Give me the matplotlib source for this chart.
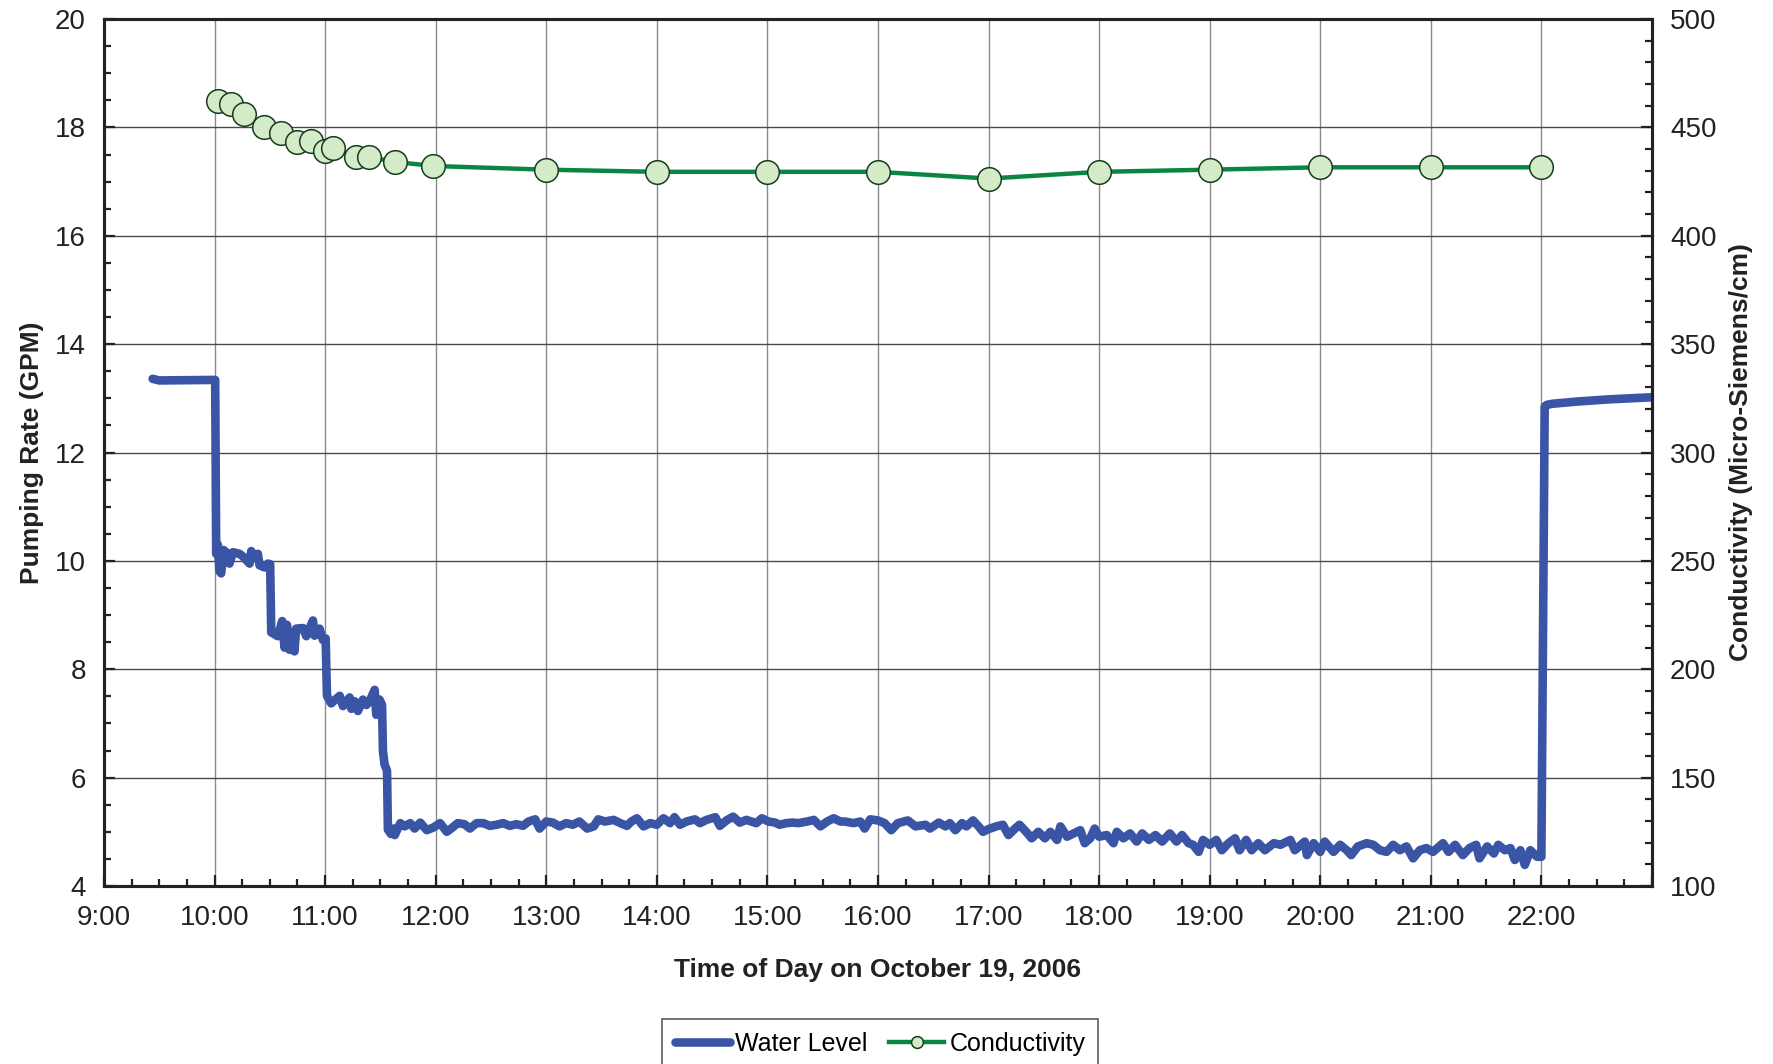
import matplotlib
matplotlib.use("Agg")
from matplotlib import pyplot as plt
from matplotlib.ticker import MultipleLocator
import numpy as np

plt.rcParams['font.family'] = ['Liberation Sans', 'DejaVu Sans']

# water level (pumping rate, GPM), time in decimal hours
wl_time = [9.44, 9.50, 10.006, 10.015, 10.03, 10.045, 10.06, 10.082, 10.105, 10.135,
           10.167, 10.227, 10.257, 10.317, 10.332, 10.362, 10.392, 10.407, 10.452, 10.483,
           10.503, 10.513, 10.573, 10.612, 10.633, 10.655, 10.678, 10.708, 10.723, 10.738,
           10.80, 10.83, 10.89, 10.905, 10.95, 10.98, 11.005, 11.017, 11.055, 11.132,
           11.162, 11.222, 11.237, 11.267, 11.297, 11.342, 11.373, 11.403, 11.448, 11.463,
           11.493, 11.515, 11.523, 11.538, 11.56, 11.568, 11.595, 11.62, 11.63, 11.68,
           11.72, 11.77, 11.81, 11.86, 11.92, 11.98, 12.04, 12.10, 12.14, 12.20,
           12.26, 12.31, 12.37, 12.43, 12.49, 12.55, 12.61, 12.67, 12.73, 12.79,
           12.84, 12.90, 12.94, 13.00, 13.06, 13.12, 13.18, 13.24, 13.30, 13.37,
           13.43, 13.47, 13.53, 13.61, 13.67, 13.73, 13.77, 13.82, 13.88, 13.94,
           14.00, 14.06, 14.12, 14.16, 14.21, 14.27, 14.345, 14.39, 14.45, 14.53,
           14.57, 14.63, 14.69, 14.75, 14.81, 14.90, 14.95, 15.01, 15.07, 15.11,
           15.17, 15.23, 15.28, 15.36, 15.42, 15.48, 15.54, 15.60, 15.66, 15.70,
           15.78, 15.84, 15.88, 15.93, 16.00, 16.06, 16.12, 16.18, 16.27, 16.34,
           16.43, 16.47, 16.55, 16.61, 16.65, 16.70, 16.76, 16.80, 16.86, 16.91,
           16.95, 17.00, 17.07, 17.13, 17.18, 17.24, 17.28, 17.34, 17.39, 17.45,
           17.51, 17.56, 17.62, 17.65, 17.71, 17.77, 17.83, 17.87, 17.92, 17.96,
           18.00, 18.07, 18.13, 18.16, 18.22, 18.28, 18.34, 18.39, 18.45, 18.51,
           18.57, 18.64, 18.70, 18.75, 18.81, 18.85, 18.90, 18.94, 19.00, 19.06,
           19.11, 19.17, 19.23, 19.27, 19.33, 19.38, 19.44, 19.50, 19.58, 19.64,
           19.73, 19.77, 19.86, 19.88, 19.94, 20.00, 20.04, 20.12, 20.18, 20.24,
           20.28, 20.34, 20.42, 20.48, 20.54, 20.60, 20.66, 20.72, 20.78, 20.84,
           20.90, 20.96, 21.02, 21.11, 21.16, 21.22, 21.29, 21.35, 21.41, 21.44,
           21.51, 21.57, 21.61, 21.67, 21.72, 21.76, 21.81, 21.85, 21.90, 21.96,
           22.00, 22.03, 22.05, 22.10, 22.32, 22.60, 23.00]
wl_gpm = [13.36, 13.33, 13.34, 10.13, 10.30, 9.81, 9.77, 10.20, 10.16, 9.95,
          10.16, 10.13, 10.08, 9.95, 10.18, 10.09, 10.13, 9.92, 9.88, 9.95,
          9.94, 8.68, 8.61, 8.89, 8.40, 8.82, 8.36, 8.68, 8.33, 8.75,
          8.76, 8.61, 8.90, 8.62, 8.75, 8.54, 8.57, 7.51, 7.37, 7.51,
          7.32, 7.48, 7.27, 7.41, 7.23, 7.44, 7.34, 7.41, 7.62, 7.16,
          7.44, 7.34, 6.49, 6.24, 6.13, 5.04, 4.96, 5.06, 4.94, 5.16,
          5.10, 5.16, 5.06, 5.17, 5.03, 5.08, 5.16, 5.00, 5.06, 5.16,
          5.14, 5.06, 5.16, 5.16, 5.11, 5.13, 5.16, 5.11, 5.14, 5.11,
          5.19, 5.23, 5.06, 5.19, 5.17, 5.10, 5.16, 5.13, 5.19, 5.06,
          5.10, 5.23, 5.19, 5.22, 5.16, 5.11, 5.19, 5.25, 5.10, 5.16,
          5.13, 5.25, 5.16, 5.27, 5.13, 5.19, 5.23, 5.16, 5.22, 5.27,
          5.11, 5.21, 5.28, 5.17, 5.22, 5.16, 5.25, 5.19, 5.17, 5.13,
          5.16, 5.17, 5.16, 5.19, 5.22, 5.10, 5.19, 5.25, 5.19, 5.19,
          5.16, 5.19, 5.06, 5.23, 5.21, 5.16, 5.03, 5.16, 5.21, 5.10,
          5.13, 5.06, 5.17, 5.10, 5.16, 5.03, 5.16, 5.10, 5.21, 5.10,
          5.00, 5.05, 5.10, 5.13, 4.94, 5.06, 5.13, 5.00, 4.88, 5.00,
          4.88, 5.00, 4.85, 5.10, 4.91, 4.97, 5.03, 4.79, 4.88, 5.06,
          4.91, 4.94, 4.79, 5.00, 4.88, 4.97, 4.82, 4.97, 4.85, 4.94,
          4.82, 4.97, 4.82, 4.94, 4.79, 4.76, 4.63, 4.85, 4.76, 4.85,
          4.66, 4.79, 4.88, 4.66, 4.85, 4.66, 4.79, 4.66, 4.79, 4.76,
          4.85, 4.66, 4.82, 4.57, 4.79, 4.63, 4.82, 4.63, 4.76, 4.66,
          4.57, 4.73, 4.79, 4.76, 4.66, 4.63, 4.76, 4.66, 4.73, 4.51,
          4.66, 4.70, 4.63, 4.79, 4.63, 4.76, 4.57, 4.70, 4.76, 4.51,
          4.73, 4.60, 4.76, 4.66, 4.70, 4.48, 4.66, 4.39, 4.66, 4.54,
          4.54, 12.85, 12.88, 12.90, 12.94, 12.98, 13.02]

# conductivity samples (micro-siemens/cm)
cond_time = [10.03, 10.15, 10.27, 10.45, 10.60, 10.75, 10.87, 11.00, 11.07, 11.28,
             11.40, 11.63, 11.98, 13.0, 14.0, 15.0, 16.0, 17.0, 18.0, 19.0,
             20.0, 21.0, 22.0]
cond_val = [462.1, 460.9, 456.4, 450.2, 447.5, 443.2, 443.7, 439.3, 440.3, 436.3,
            436.3, 434.1, 432.2, 430.5, 429.5, 429.5, 429.5, 426.4, 429.5, 430.5,
            431.6, 431.6, 431.6]

hour_ticks = list(range(9, 24))
hour_labels = ["%d:00" % h for h in range(9, 23)] + [""]

fig = plt.figure(figsize=(17.74, 10.64), dpi=100)
ax = fig.add_axes([0.0586, 0.1673, 0.8726, 0.8148])
ax2 = ax.twinx()

l1, = ax.plot(wl_time, wl_gpm, color="#3A55A5", lw=6.2, solid_capstyle="round",
              solid_joinstyle="round", label="Water Level", zorder=3)
l2, = ax2.plot(cond_time, cond_val, color="#0B8543", lw=3.2, marker="o",
               markersize=17, markerfacecolor="#D3EBC6", markeredgecolor="#173B1E",
               markeredgewidth=1.1, label="Conductivity", zorder=4)

ax.set_xlim(9, 23)
ax.set_ylim(4, 20)
ax2.set_ylim(100, 500)
ax.set_xticks(hour_ticks)
ax.set_xticklabels(hour_labels)
ax.xaxis.set_minor_locator(MultipleLocator(0.25))
ax.yaxis.set_major_locator(MultipleLocator(2))
ax.yaxis.set_minor_locator(MultipleLocator(0.5))
ax2.yaxis.set_major_locator(MultipleLocator(50))
ax2.yaxis.set_minor_locator(MultipleLocator(10))

ax.grid(True, which="major", axis="x", color="#8a8a8a", lw=1.0, zorder=0)
ax.grid(True, which="major", axis="y", color="#4a4a4a", lw=1.0, zorder=0)
ax.set_axisbelow(True)

for a in (ax, ax2):
    for s in a.spines.values():
        s.set_linewidth(2.2)
        s.set_color("#222222")
    a.tick_params(which="both", direction="in", width=1.6, colors="#222222",
                  labelsize=20, labelcolor="#222222")
    a.tick_params(which="major", length=8)
    a.tick_params(which="minor", length=5)
ax.tick_params(axis="y", pad=13)
ax.tick_params(axis="x", pad=14)
ax2.tick_params(axis="y", pad=13)

ax.set_xlabel("Time of Day on October 19, 2006", fontsize=19, fontweight="bold",
              color="#222222")
ax.set_ylabel("Pumping Rate (GPM)", fontsize=19, fontweight="bold", color="#222222")
ax2.set_ylabel("Conductivity (Micro-Siemens/cm)", fontsize=19, fontweight="bold",
               color="#222222")
ax.xaxis.set_label_coords(0.5, -0.083)
ax.yaxis.set_label_coords(-0.039, 0.5)
ax2.yaxis.set_label_coords(1.050, 0.5)

leg = fig.legend(handles=[l1, l2], loc="upper center", bbox_to_anchor=(0.496, 0.054),
                 ncol=2, fontsize=18, frameon=True, fancybox=False, markerscale=0.5,
                 handlelength=2.2, handletextpad=0.2, columnspacing=0.9,
                 borderpad=0.5)
leg.get_frame().set_edgecolor("#333333")
leg.get_frame().set_linewidth(1.2)

fig.savefig("out.png", dpi=100)
